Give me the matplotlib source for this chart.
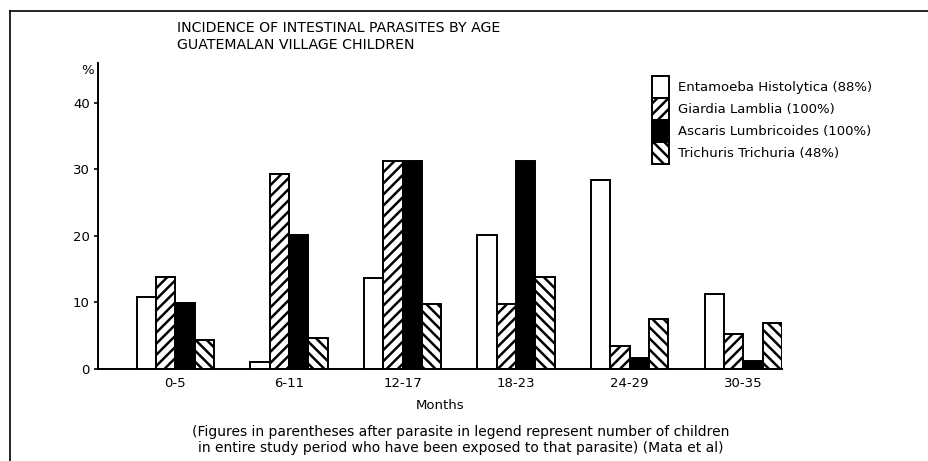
import numpy as np
import matplotlib
matplotlib.use("Agg")
import matplotlib.pyplot as plt
from matplotlib.lines import Line2D

plt.rcParams['font.family'] = ['DejaVu Sans']
plt.rcParams['hatch.linewidth'] = 1.8

# data (percent of children)
age_groups = ["0-5", "6-11", "12-17", "18-23", "24-29", "30-35"]
entamoeba = [10.8, 1.1, 13.7, 20.2, 28.4, 11.2]
giardia = [13.9, 29.3, 31.3, 9.7, 3.4, 5.2]
ascaris = [9.9, 20.1, 31.3, 31.3, 1.6, 1.2]
trichuris = [4.4, 4.6, 9.7, 13.8, 7.5, 6.9]

labels = ["Entamoeba Histolytica (88%)", "Giardia Lamblia (100%)",
          "Ascaris Lumbricoides (100%)", "Trichuris Trichuria (48%)"]
series = [entamoeba, giardia, ascaris, trichuris]
faces = ["white", "white", "black", "white"]
hatches = [None, "///", None, "\\\\\\"]

W, H = 929, 461
fig = plt.figure(figsize=(W / 100, H / 100), dpi=100)
ax = fig.add_axes([98 / W, 1 - 369 / H, (782 - 98) / W, (369 - 63) / H])

x = np.arange(len(age_groups))
bw = 0.17
handles = []
for j, (vals, fc, ht, lab) in enumerate(zip(series, faces, hatches, labels)):
    b = ax.bar(x + (j - 1.5) * bw, vals, bw, color=fc, edgecolor="black",
               hatch=ht, linewidth=1.4, label=lab)
    handles.append(b)

ax.set_xlim(-0.68, 5.34)
ax.set_ylim(0, 46)
ax.spines[['top', 'right']].set_visible(False)
ax.spines[['left', 'bottom']].set_linewidth(1.4)

ax.set_yticks([0, 10, 20, 30, 40])
ax.tick_params(axis='y', length=3, width=1.2, pad=3, labelsize=9.5)
ax.set_xticks(x)
ax.set_xticklabels(age_groups)
ax.tick_params(axis='x', length=0, pad=6, labelsize=9.5)
ax.set_xlabel("Months", fontsize=9.5, labelpad=6)

fig.text(88 / W, 1 - 70 / H, "%", ha='center', va='center', fontsize=9.5)

fig.text(177 / W, 1 - 28 / H, "INCIDENCE OF INTESTINAL PARASITES BY AGE",
         ha='left', va='center', fontsize=10.2)
fig.text(177 / W, 1 - 45 / H, "GUATEMALAN VILLAGE CHILDREN",
         ha='left', va='center', fontsize=10.2)

ax.legend(handles=handles, loc='upper left',
          bbox_to_anchor=(645 / W, 1 - 69 / H), bbox_transform=fig.transFigure,
          frameon=False, borderpad=0, labelspacing=0, handleheight=2.2,
          handlelength=1.3, handletextpad=0.7, fontsize=9.5)

fig.text(461 / W, 1 - 440 / H,
         "(Figures in parentheses after parasite in legend represent number of children\n"
         "in entire study period who have been exposed to that parasite) (Mata et al)",
         ha='center', va='center', fontsize=10, multialignment='center',
         linespacing=1.15)

# scanned page frame
fig.add_artist(Line2D([10 / W, 1], [1 - 11 / H, 1 - 11 / H], color='black', lw=1.2))
fig.add_artist(Line2D([10 / W, 10 / W], [0, 1 - 11 / H], color='black', lw=1.2))

fig.savefig("out.png", dpi=100)
